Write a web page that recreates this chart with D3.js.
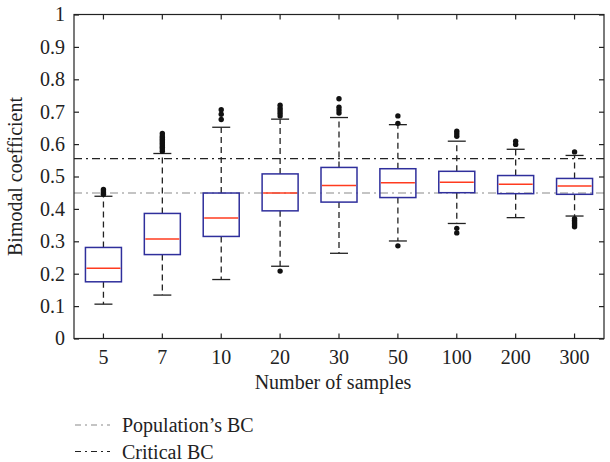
<!DOCTYPE html>
<html>
<head>
<meta charset="utf-8">
<script src="https://cdn.jsdelivr.net/npm/d3@7"></script>
<style>
body { margin: 0; background: #fff; }
text { font-family: "Liberation Serif", "DejaVu Serif", serif; fill: #222; }
</style>
</head>
<body>
<div id="chart"></div>
<script>
// categories and box statistics
const categories = ["5", "7", "10", "20", "30", "50", "100", "200", "300"];
const whiskerLow  = [0.106, 0.134, 0.182, 0.223, 0.263, 0.301, 0.355, 0.373, 0.378];
const q1          = [0.175, 0.259, 0.315, 0.394, 0.421, 0.435, 0.450, 0.447, 0.445];
const median      = [0.217, 0.307, 0.372, 0.449, 0.472, 0.481, 0.482, 0.476, 0.471];
const q3          = [0.281, 0.386, 0.449, 0.508, 0.528, 0.524, 0.516, 0.503, 0.494];
const whiskerHigh = [0.439, 0.571, 0.652, 0.677, 0.682, 0.660, 0.609, 0.584, 0.565];
const outliers = [
  [0.445, 0.450, 0.455, 0.460],
  [0.578, 0.585, 0.590, 0.595, 0.600, 0.605, 0.610, 0.615, 0.620, 0.625, 0.633],
  [0.676, 0.692, 0.706],
  [0.208, 0.687, 0.695, 0.703, 0.711, 0.720],
  [0.696, 0.705, 0.714, 0.740],
  [0.286, 0.664, 0.687],
  [0.326, 0.340, 0.624, 0.632, 0.640],
  [0.599, 0.609],
  [0.345, 0.350, 0.355, 0.360, 0.365, 0.370, 0.576]
];
const yTicks = [0, 0.1, 0.2, 0.3, 0.4, 0.5, 0.6, 0.7, 0.8, 0.9, 1];
const populationBC = 0.449;
const criticalBC = 0.555;

const W = 610, H = 462;
const margin = { top: 14.5, right: 6, bottom: 123.5, left: 74 };
const width = W - margin.left - margin.right,
      height = H - margin.top - margin.bottom;
const fs = 20;

const svg = d3.select("#chart").append("svg")
  .attr("width", W).attr("height", H);
const g = svg.append("g")
  .attr("transform", `translate(${margin.left},${margin.top})`);

const x = d3.scaleBand().domain(categories).range([0, width]).padding(0);
const y = d3.scaleLinear().domain([0, 1]).range([height, 0]);

const bw = 36, capW = 18;
const cx = c => x(c) + x.bandwidth() / 2;

// reference lines
const refLines = [
  { v: populationBC, color: "#8a8a8a" },
  { v: criticalBC, color: "#222" }
];
g.selectAll(".ref").data(refLines).enter().append("line")
  .attr("x1", 0).attr("x2", width)
  .attr("y1", d => y(d.v)).attr("y2", d => y(d.v))
  .attr("stroke", d => d.color).attr("stroke-width", 1.2)
  .attr("stroke-dasharray", "8,4,2,4");

const stats = categories.map((c, i) => ({
  c, lo: whiskerLow[i], q1: q1[i], med: median[i], q3: q3[i], hi: whiskerHigh[i], out: outliers[i]
}));

const box = g.selectAll(".box").data(stats).enter().append("g").attr("class", "box");

// whiskers
box.append("line")
  .attr("x1", d => cx(d.c)).attr("x2", d => cx(d.c))
  .attr("y1", d => y(d.q3)).attr("y2", d => y(d.hi))
  .attr("stroke", "#222").attr("stroke-width", 1.3).attr("stroke-dasharray", "6,4");
box.append("line")
  .attr("x1", d => cx(d.c)).attr("x2", d => cx(d.c))
  .attr("y1", d => y(d.q1)).attr("y2", d => y(d.lo))
  .attr("stroke", "#222").attr("stroke-width", 1.3).attr("stroke-dasharray", "6,4");
// caps
["hi", "lo"].forEach(k => {
  box.append("line")
    .attr("x1", d => cx(d.c) - capW / 2).attr("x2", d => cx(d.c) + capW / 2)
    .attr("y1", d => y(d[k])).attr("y2", d => y(d[k]))
    .attr("stroke", "#222").attr("stroke-width", 1.3);
});
// box
box.append("rect")
  .attr("x", d => cx(d.c) - bw / 2).attr("width", bw)
  .attr("y", d => y(d.q3)).attr("height", d => y(d.q1) - y(d.q3))
  .attr("fill", "none").attr("stroke", "#2f2f9c").attr("stroke-width", 1.5);
// median
box.append("line")
  .attr("x1", d => cx(d.c) - bw / 2 + 1).attr("x2", d => cx(d.c) + bw / 2 - 1)
  .attr("y1", d => y(d.med)).attr("y2", d => y(d.med))
  .attr("stroke", "#ff3b1f").attr("stroke-width", 1.5);
// outliers
box.each(function(d) {
  d3.select(this).selectAll("circle").data(d.out).enter().append("circle")
    .attr("cx", cx(d.c)).attr("cy", v => y(v)).attr("r", 2.7)
    .attr("fill", "#111");
});

// frame
g.append("rect").attr("width", width).attr("height", height)
  .attr("fill", "none").attr("stroke", "#222").attr("stroke-width", 1.2);

// axes (inward ticks on all sides)
const tl = 5;
const xAxis = g.append("g").attr("transform", `translate(0,${height})`)
  .call(d3.axisBottom(x).tickSizeInner(-tl).tickSizeOuter(0).tickPadding(11));
const xTop = g.append("g")
  .call(d3.axisTop(x).tickSizeInner(-tl).tickSizeOuter(0).tickFormat(""));
const yAxis = g.append("g")
  .call(d3.axisLeft(y).tickValues(yTicks).tickSizeInner(-tl).tickSizeOuter(0).tickPadding(9)
    .tickFormat(d => d === 0 || d === 1 ? d3.format("d")(d) : d3.format(".1f")(d)));
const yRight = g.append("g").attr("transform", `translate(${width},0)`)
  .call(d3.axisRight(y).tickValues(yTicks).tickSizeInner(-tl).tickSizeOuter(0).tickFormat(""));

[xAxis, xTop, yAxis, yRight].forEach(a => {
  a.select(".domain").remove();
  a.selectAll(".tick line").attr("stroke", "#222").attr("stroke-width", 1.2);
  a.selectAll("text").attr("font-size", fs).attr("font-family", "Liberation Serif").attr("fill", "#222");
});

// axis titles
svg.append("text")
  .attr("x", margin.left + width / 2 - 6).attr("y", 389)
  .attr("text-anchor", "middle").attr("font-size", fs)
  .text("Number of samples");
svg.append("text")
  .attr("transform", `translate(22,${margin.top + height / 2}) rotate(-90)`)
  .attr("text-anchor", "middle").attr("font-size", fs)
  .text("Bimodal coefficient");

// legend
const legendItems = [
  { label: "Population\u2019s BC", color: "#8a8a8a", y: 425 },
  { label: "Critical BC", color: "#222", y: 451.5 }
];
const leg = svg.append("g");
leg.selectAll("line").data(legendItems).enter().append("line")
  .attr("x1", 75).attr("x2", 110)
  .attr("y1", d => d.y).attr("y2", d => d.y)
  .attr("stroke", d => d.color).attr("stroke-width", 1.2)
  .attr("stroke-dasharray", "6,4,2,4");
leg.selectAll("text").data(legendItems).enter().append("text")
  .attr("x", 122).attr("y", d => d.y).attr("dy", "0.35em")
  .attr("font-size", fs)
  .text(d => d.label);
</script>
</body>
</html>
